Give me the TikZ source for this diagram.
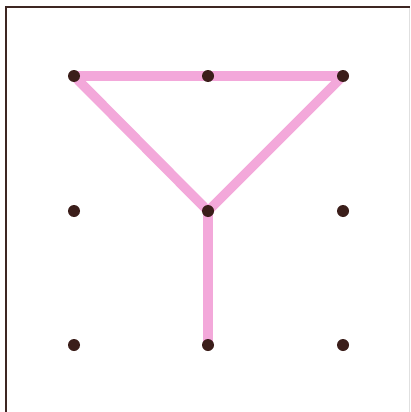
\documentclass[tikz,border=0pt]{standalone}
\definecolor{dotc}{HTML}{3B1E1A}
\definecolor{pinkc}{HTML}{F3A8DA}
\definecolor{framec}{HTML}{3D2622}
\begin{document}
\begin{tikzpicture}[x=1pt,y=-1pt,
  dotstyle/.style={circle,fill=dotc,inner sep=0pt,minimum size=12pt},
  segstyle/.style={draw=pinkc,line width=9.5pt,line cap=round,line join=round}]
\useasboundingbox (0,0) rectangle (410,412);
\fill[white] (0,0) rectangle (410,412);
\draw[framec,line width=2pt] (5.5,412) -- (5.5,7.5) -- (410,7.5);
\draw[black!12,line width=1pt] (409,8.5) -- (409,412);
\coordinate (p11) at (74,76);
\coordinate (p12) at (208,76);
\coordinate (p13) at (343,76);
\coordinate (p21) at (74,211);
\coordinate (p22) at (208,211);
\coordinate (p23) at (343,211);
\coordinate (p31) at (74,345);
\coordinate (p32) at (208,345);
\coordinate (p33) at (343,345);
\draw[segstyle] (p11) -- (p13);
\draw[segstyle] (p13) -- (p22);
\draw[segstyle] (p22) -- (p11);
\draw[segstyle] (p22) -- (p32);
\foreach \p in {p11,p12,p13,p21,p22,p23,p31,p32,p33}
  \node[dotstyle] (d\p) at (\p) {};
\end{tikzpicture}
\end{document}
